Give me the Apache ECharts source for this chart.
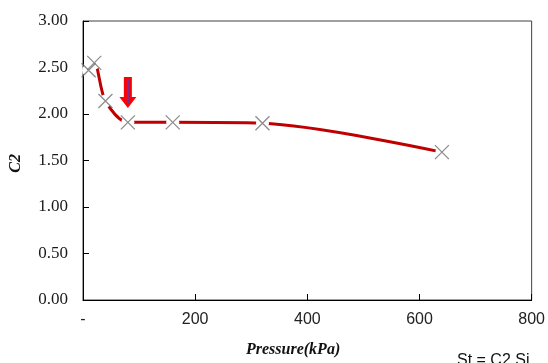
<!DOCTYPE html>
<html>
<head>
<meta charset="utf-8">
<script src="https://cdn.jsdelivr.net/npm/echarts@6/dist/echarts.min.js"></script>
<style>html,body{margin:0;padding:0;background:#fff}#c{width:548px;height:363px}</style>
</head>
<body>
<div id="c"></div>
<script>
const pressure = [10, 20, 40, 80, 160, 320, 640];
const c2 = [2.47, 2.55, 2.14, 1.91, 1.91, 1.90, 1.59];
const xTicks = ['-', '200', '400', '600', '800'];
const arrowAt = [80, 2.23];

const pts = pressure.map((p, i) => [p, c2[i]]);
const chart = echarts.init(document.getElementById('c'), null, {renderer: 'canvas'});
chart.setOption({
  animation: false,
  grid: {left: 83, right: 15, top: 21, bottom: 63, show: true, borderColor: '#404040', borderWidth: 1, backgroundColor: 'transparent'},
  xAxis: {
    type: 'value', min: 0, max: 800, interval: 200,
    axisLine: {show: true, onZero: false, lineStyle: {color: '#000', width: 1}},
    axisTick: {show: true, inside: true, length: 6, lineStyle: {color: '#000'}},
    splitLine: {show: false},
    axisLabel: {margin: 12, fontFamily: 'Liberation Sans', fontSize: 16, color: '#222',
      formatter: v => xTicks[Math.round(v / 200)]}
  },
  yAxis: {
    type: 'value', min: 0, max: 3, interval: 0.5,
    axisLine: {show: true, lineStyle: {color: '#000', width: 1}},
    axisTick: {show: true, inside: true, length: 6, lineStyle: {color: '#000'}},
    splitLine: {show: false},
    axisLabel: {margin: 15, fontFamily: 'Liberation Serif', fontSize: 17, color: '#1a1a1a',
      formatter: v => v.toFixed(2)}
  },
  series: [
    {
      type: 'line', data: pts, smooth: 0.3, symbol: 'none', z: 2,
      lineStyle: {color: '#c00000', width: 3},
      markPoint: {
        z: 6,
        data: [
          {coord: arrowAt, symbol: 'path://M4.5,0 L12.5,0 L12.5,20 L17,20 L8.5,31 L0,20 L4.5,20 Z',
           symbolSize: [17, 31], itemStyle: {color: '#ff0000'}, label: {show: false}},
          {coord: [arrowAt[0], arrowAt[1] + 0.01], symbol: 'rect', symbolSize: [2, 24],
           itemStyle: {color: '#7030a0'}, label: {show: false}}
        ]
      }
    },
    {
      type: 'scatter', data: pts, symbol: 'circle', symbolSize: 13, z: 3,
      itemStyle: {color: '#fff', opacity: 1}, silent: true
    },
    {
      type: 'scatter', data: pts, symbol: 'path://M0,0 L10,10 M10,0 L0,10', symbolSize: 14, z: 4,
      itemStyle: {color: 'none', borderColor: '#707070', borderWidth: 1.3}
    }
  ],
  graphic: [
    {type: 'text', left: 246, top: 342, style: {text: 'Pressure(kPa)', font: 'italic bold 16px "Liberation Serif"', fill: '#111'}},
    {type: 'text', left: 8, top: 154, rotation: Math.PI / 2, originX: 0, originY: 0,
     style: {text: 'C2', font: 'italic bold 16px "Liberation Serif"', fill: '#111'}},
    {type: 'text', left: 457, top: 353, style: {text: 'St = C2 Si', font: '16px "Liberation Sans"', fill: '#111'}}
  ]
});
</script>
</body>
</html>
